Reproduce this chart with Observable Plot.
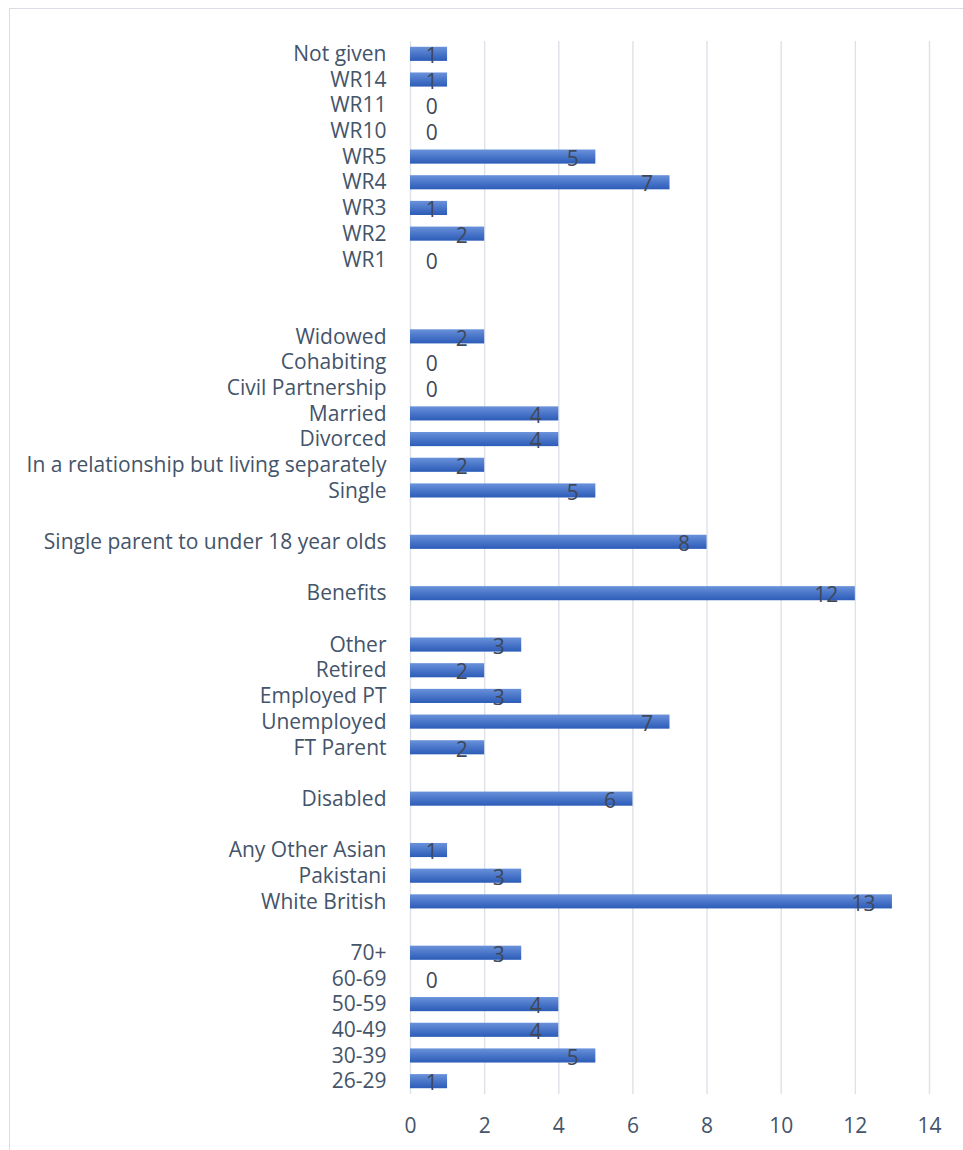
<!DOCTYPE html>
<html>
<head>
<meta charset="utf-8">
<script src="https://cdn.jsdelivr.net/npm/d3@7"></script>
<script src="https://cdn.jsdelivr.net/npm/@observablehq/plot@0.6"></script>
<style>
  html, body { margin: 0; padding: 0; background: #fff; }
  #wrap { position: relative; width: 963px; height: 1150px; overflow: hidden; }
  #frame { position: absolute; left: 9px; top: 8px; right: -10px; bottom: -10px;
           border-left: 1.5px solid #dadde3; border-top: 1.5px solid #dadde3; pointer-events: none; }
  svg { display: block; }
</style>
</head>
<body>
<div id="wrap"><div id="frame"></div></div>
<script>
// Categories top-to-bottom; "_gapN" are empty spacer rows
const categories = [
  "Not given","WR14","WR11","WR10","WR5","WR4","WR3","WR2","WR1",
  "_gap1","_gap2",
  "Widowed","Cohabiting","Civil Partnership","Married","Divorced",
  "In a relationship but living separately","Single",
  "_gap3",
  "Single parent to under 18 year olds",
  "_gap4",
  "Benefits",
  "_gap5",
  "Other","Retired","Employed PT","Unemployed","FT Parent",
  "_gap6",
  "Disabled",
  "_gap7",
  "Any Other Asian","Pakistani","White British",
  "_gap8",
  "70+","60-69","50-59","40-49","30-39","26-29"
];
const values = [
  1,1,0,0,5,7,1,2,0,
  null,null,
  2,0,0,4,4,2,5,
  null,
  8,
  null,
  12,
  null,
  3,2,3,7,2,
  null,
  6,
  null,
  1,3,13,
  null,
  3,0,4,4,5,1
];
const xTicks = [0,2,4,6,8,10,12,14];

const data = categories.map((c, i) => ({cat: c, value: values[i]})).filter(d => d.value !== null);
const isGap = c => c.startsWith("_gap");

const font = "'Open Sans', Lato, sans-serif";
const textColor = "#44546A";
const labelColor = "#3f4858";

const chart = Plot.plot({
  width: 963,
  height: 1150,
  marginTop: 41,
  marginBottom: 56,
  marginLeft: 410,
  marginRight: 34,
  style: {fontFamily: font, fontSize: "21px", color: textColor, background: "transparent"},
  x: {domain: [0, 14], ticks: xTicks, label: null},
  y: {domain: categories, paddingInner: 0.45, paddingOuter: 0.225, round: false, label: null},
  marks: [
    Plot.ruleX(xTicks, {stroke: "#dde1e8", strokeWidth: 1.4, strokeOpacity: 1}),
    Plot.barX(data, {x: "value", y: "cat", fill: "url(#barGrad)"}),
    Plot.text(data.filter(d => d.value >= 2), {
      x: "value", y: "cat", text: d => String(d.value),
      textAnchor: "end", dx: -17, dy: 2, fill: labelColor, fontSize: 21
    }),
    Plot.text(data.filter(d => d.value < 2), {
      x: () => 0.57, y: "cat", text: d => String(d.value),
      textAnchor: "middle", dy: 2, fill: labelColor, fontSize: 21
    }),
    Plot.axisY({tickSize: 0, tickPadding: 24, label: null, tickFormat: d => isGap(d) ? "" : d, fill: textColor, fontSize: 21}),
    Plot.axisX({ticks: xTicks, tickSize: 0, tickPadding: 24, label: null, fill: textColor, fontSize: 21})
  ]
});

// gradient definition for bars
const ns = "http://www.w3.org/2000/svg";
const defs = document.createElementNS(ns, "defs");
defs.innerHTML = `<linearGradient id="barGrad" x1="0" y1="0" x2="0" y2="1">
  <stop offset="0" stop-color="#6a92db"/>
  <stop offset="0.5" stop-color="#4a76c9"/>
  <stop offset="1" stop-color="#2c5cb8"/>
</linearGradient>`;
chart.insertBefore(defs, chart.firstChild);

document.getElementById("wrap").insertBefore(chart, document.getElementById("frame"));
</script>
</body>
</html>
